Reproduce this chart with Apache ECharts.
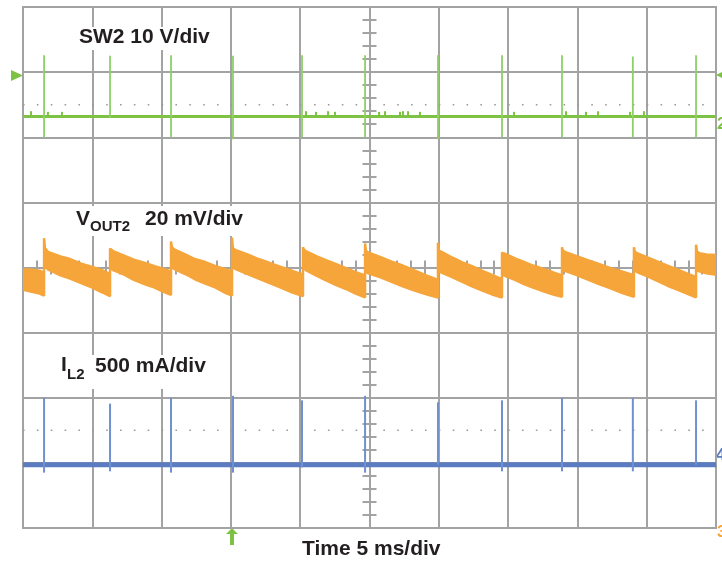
<!DOCTYPE html>
<html><head><meta charset="utf-8">
<script src="https://cdn.jsdelivr.net/npm/echarts@6/dist/echarts.min.js"></script>
<style>html,body{margin:0;padding:0;background:#fff}#c{width:722px;height:563px}</style>
</head><body><div id="c"></div>
<script>
// x: time in ms (5 ms/div, 10 div), y: screen divisions (-4..4)
const switchTimes = [1.52, 6.28, 10.68, 15.15, 20.13, 24.68, 29.94, 34.56, 38.89, 44.0, 48.56];
const sw2Level = 2.32;
const sw2SpikeTop = [3.26, 3.25, 3.26, 3.25, 3.26, 3.26, 3.26, 3.26, 3.26, 3.24, 3.26];
const sw2SpikeBot = [2.0, 2.30, 2.0, 1.97, 2.0, 2.0, 1.97, 2.0, 2.0, 2.0, 2.0];
const sw2BumpT = [0.58, 1.80, 2.81, 20.42, 21.14, 22.01, 22.51, 25.69, 26.12, 27.2, 27.42, 27.78, 28.64, 35.43, 39.18, 40.62, 41.49, 43.8, 44.8];
const sw2BumpV = [2.40, 2.39, 2.39, 2.40, 2.39, 2.40, 2.39, 2.39, 2.40, 2.39, 2.40, 2.40, 2.39, 2.39, 2.40, 2.39, 2.40, 2.39, 2.40];
const il2Level = -3.03;
const il2SpikeTop = [-2.0, -2.09, -2.0, -1.97, -2.04, -1.97, -2.07, -2.04, -2.0, -2.0, -2.04];
const il2SpikeBot = [-3.15, -3.13, -3.15, -3.15, -3.07, -3.15, -3.03, -3.13, -3.13, -3.13, -3.03];
const voutTime = [
  0, 0.4, 0.8, 1.2, 1.52,
  1.52, 1.58, 1.8, 2.7, 3.4, 4.2, 5.0, 5.7, 6.28,
  6.28, 6.34, 6.5, 7.3, 8.0, 8.8, 9.5, 10.1, 10.68,
  10.68, 10.74, 10.9, 11.7, 12.4, 13.2, 13.9, 14.5, 15.08,
  15.08, 15.14, 15.3, 16.2, 17.0, 17.8, 18.6, 19.4, 20.20,
  20.20, 20.26, 20.4, 21.2, 21.9, 22.6, 23.3, 24.0, 24.68,
  24.68, 24.74, 24.9, 25.8, 26.6, 27.4, 28.2, 29.1, 29.94,
  29.94, 30.0, 30.2, 31.0, 31.7, 32.4, 33.1, 33.8, 34.56,
  34.56, 34.62, 34.8, 35.5, 36.1, 36.8, 37.5, 38.2, 38.89,
  38.89, 38.95, 39.1, 40.0, 40.8, 41.6, 42.4, 43.2, 44.08,
  44.08, 44.14, 44.3, 45.1, 45.8, 46.5, 47.2, 47.9, 48.56,
  48.56, 48.62, 48.8, 49.3, 50
];
const voutHigh = [
  -0.03, -0.03, -0.04, -0.05, -0.08,
  0.45, 0.30, 0.24, 0.17, 0.13, 0.06, 0.01, -0.04, -0.10,
  0.29, 0.28, 0.25, 0.18, 0.12, 0.07, 0.02, -0.02, -0.06,
  0.40, 0.31, 0.28, 0.20, 0.13, 0.08, 0.02, -0.02, -0.06,
  0.46, 0.30, 0.27, 0.20, 0.13, 0.07, 0.01, -0.05, -0.11,
  0.31, 0.28, 0.25, 0.17, 0.11, 0.05, -0.01, -0.07, -0.12,
  0.37, 0.26, 0.23, 0.16, 0.09, 0.03, -0.04, -0.12, -0.19,
  0.38, 0.26, 0.24, 0.15, 0.08, 0.02, -0.05, -0.11, -0.18,
  0.23, 0.22, 0.21, 0.14, 0.09, 0.03, -0.02, -0.07, -0.12,
  0.31, 0.26, 0.24, 0.17, 0.11, 0.05, -0.01, -0.06, -0.12,
  0.31, 0.24, 0.22, 0.15, 0.09, 0.03, -0.03, -0.09, -0.15,
  0.35, 0.25, 0.22, 0.20, 0.19
];
const voutLow = [
  -0.34, -0.36, -0.38, -0.40, -0.43,
  0.00, 0.02, -0.03, -0.12, -0.17, -0.24, -0.31, -0.38, -0.44,
  0.00, -0.01, -0.04, -0.11, -0.19, -0.26, -0.31, -0.37, -0.42,
  0.03, 0.01, -0.02, -0.10, -0.18, -0.25, -0.31, -0.38, -0.43,
  0.05, 0.02, -0.02, -0.10, -0.17, -0.24, -0.31, -0.38, -0.44,
  0.02, 0.00, -0.04, -0.13, -0.20, -0.27, -0.33, -0.40, -0.46,
  -0.05, -0.06, -0.09, -0.15, -0.22, -0.29, -0.35, -0.41, -0.46,
  -0.03, -0.05, -0.08, -0.15, -0.22, -0.29, -0.35, -0.41, -0.46,
  -0.11, -0.11, -0.13, -0.19, -0.25, -0.31, -0.36, -0.41, -0.45,
  0.00, -0.02, -0.05, -0.12, -0.19, -0.26, -0.32, -0.39, -0.45,
  -0.02, -0.04, -0.07, -0.14, -0.21, -0.28, -0.34, -0.40, -0.46,
  -0.03, -0.04, -0.06, -0.09, -0.11
];
const dotRows = [2.5, -2.5];

const GREEN = '#7dc242', GREEN_L = '#8fcf68', BLUE = '#5b7cc1', BLUE_L = '#7090cf', ORANGE = '#f5a53a';
const GRID = '#a3a3a3', TXT = '#231f20';
const FONT = '"Liberation Sans", Arial, sans-serif';

const chart = echarts.init(document.getElementById('c'), null, {renderer: 'canvas'});

function spikeSeries(tops, bots, color, w) {
  return {
    type: 'custom', xAxisIndex: 0, yAxisIndex: 0, z: 4, silent: true,
    data: switchTimes.map((t, i) => [t, tops[i], bots[i]]),
    encode: {x: 0, y: [1, 2]},
    renderItem: (params, api) => {
      const a = api.coord([api.value(0), api.value(1)]);
      const b = api.coord([api.value(0), api.value(2)]);
      return {type: 'line', shape: {x1: a[0], y1: a[1], x2: b[0], y2: b[1]}, style: {stroke: color, lineWidth: w}};
    }
  };
}

const axisCommon = {
  axisLabel: {show: false},
  axisLine: {show: true, onZero: true, lineStyle: {color: GRID, width: 2}},
  axisTick: {show: true, length: 7, lineStyle: {color: GRID, width: 2}},
  minorTick: {show: true, splitNumber: 5, length: 7, lineStyle: {color: GRID, width: 2}}
};

function label(x, y, text, size) {
  return {type: 'text', x: x, y: y, z: 21, style: {text: text, font: 'bold ' + size + 'px ' + FONT, fill: TXT, verticalAlign: 'middle'}};
}
function blank(x, y, w, h) {
  return {type: 'rect', z: 20, shape: {x: x, y: y, width: w, height: h}, style: {fill: '#fff'}};
}

chart.setOption({
  animation: false,
  backgroundColor: '#fff',
  grid: {left: 23, right: 6, top: 7, bottom: 35, show: true, borderColor: GRID, borderWidth: 2},
  xAxis: [
    Object.assign({type: 'value', min: 0, max: 50, interval: 5, position: 'bottom',
      splitLine: {show: true, lineStyle: {color: GRID, width: 2}}}, axisCommon,
      {axisTick: Object.assign({}, axisCommon.axisTick, {inside: false})}),
    Object.assign({type: 'value', min: 0, max: 50, interval: 5, position: 'bottom',
      splitLine: {show: false}}, axisCommon,
      {axisTick: Object.assign({}, axisCommon.axisTick, {inside: true})}),
    {type: 'value', min: -25, max: 25, show: false, axisLine: {onZero: false}}
  ],
  yAxis: [
    Object.assign({type: 'value', min: -4, max: 4, interval: 1, position: 'left',
      splitLine: {show: true, lineStyle: {color: GRID, width: 2}}}, axisCommon,
      {axisLine: Object.assign({}, axisCommon.axisLine, {onZeroAxisIndex: 2}),
       axisTick: Object.assign({}, axisCommon.axisTick, {inside: false})}),
    Object.assign({type: 'value', min: -4, max: 4, interval: 1, position: 'left',
      splitLine: {show: false}}, axisCommon,
      {axisLine: Object.assign({}, axisCommon.axisLine, {onZeroAxisIndex: 2}),
       axisTick: Object.assign({}, axisCommon.axisTick, {inside: true})})
  ],
  series: [
    ...dotRows.map(v => ({
      type: 'line', xAxisIndex: 0, yAxisIndex: 0, silent: true, symbol: 'none', z: 1,
      data: [[0, v], [50, v]],
      lineStyle: {color: '#9a9a9a', width: 1.6, type: [1.6, 12.26], cap: 'butt'}
    })),
    {
      type: 'line', xAxisIndex: 0, yAxisIndex: 0, silent: true, symbol: 'none', z: 3,
      data: [[0, sw2Level], [50, sw2Level]],
      lineStyle: {color: GREEN, width: 3}
    },
    {
      type: 'custom', xAxisIndex: 0, yAxisIndex: 0, z: 3, silent: true,
      data: sw2BumpT.map((t, i) => [t, sw2BumpV[i]]),
      encode: {x: 0, y: 1},
      renderItem: (params, api) => {
        const a = api.coord([api.value(0), api.value(1)]);
        const b = api.coord([api.value(0), sw2Level]);
        return {type: 'line', shape: {x1: a[0], y1: a[1], x2: b[0], y2: b[1]}, style: {stroke: GREEN, lineWidth: 2}};
      }
    },
    spikeSeries(sw2SpikeTop, sw2SpikeBot, GREEN_L, 1.8),
    {
      type: 'custom', xAxisIndex: 0, yAxisIndex: 0, z: 3, silent: true, clip: true,
      data: voutTime.map((t, i) => [t, voutHigh[i], voutLow[i]]),
      encode: {x: 0, y: [1, 2]},
      renderItem: (params, api) => {
        if (params.dataIndex !== 0) return null;
        const pts = [];
        for (let i = 0; i < voutTime.length; i++) pts.push(api.coord([voutTime[i], voutHigh[i]]));
        for (let i = voutTime.length - 1; i >= 0; i--) pts.push(api.coord([voutTime[i], voutLow[i]]));
        return {type: 'polygon', shape: {points: pts}, style: {fill: ORANGE, stroke: ORANGE, lineWidth: 2.5, lineJoin: 'bevel'}};
      }
    },
    {
      type: 'line', xAxisIndex: 0, yAxisIndex: 0, silent: true, symbol: 'none', z: 3,
      data: [[0, il2Level], [50, il2Level]],
      lineStyle: {color: BLUE, width: 5}
    },
    spikeSeries(il2SpikeTop, il2SpikeBot, BLUE_L, 2)
  ],
  graphic: [
    blank(76, 27, 139, 23),
    blank(73, 206, 174, 30),
    blank(58, 355, 152, 34),
    label(79, 37, 'SW2 10 V/div', 21),
    label(76, 219, 'V', 21),
    label(90, 227, 'OUT2', 15),
    label(145, 219, '20 mV/div', 21),
    label(61, 365, 'I', 21),
    label(67, 375, 'L2', 15),
    label(95, 366, '500 mA/div', 21),
    label(302, 549, 'Time 5 ms/div', 21),
    {type: 'polygon', shape: {points: [[11, 70], [11, 81], [23, 75.5]]}, style: {fill: GREEN}},
    {type: 'polygon', shape: {points: [[226, 534], [232, 528], [238, 534], [234, 534], [234, 545], [230, 545], [230, 534]]}, style: {fill: GREEN}},
    {type: 'polygon', shape: {points: [[716, 75], [722, 72], [722, 78]]}, style: {fill: GREEN}},
    {type: 'text', x: 717, y: 124, style: {text: '2', font: 'bold 17px ' + FONT, fill: GREEN, verticalAlign: 'middle'}},
    {type: 'text', x: 716, y: 455, style: {text: '4', font: 'bold 17px ' + FONT, fill: BLUE, verticalAlign: 'middle'}},
    {type: 'text', x: 717, y: 532, style: {text: '3', font: 'bold 17px ' + FONT, fill: ORANGE, verticalAlign: 'middle'}}
  ]
});
</script>
</body></html>
